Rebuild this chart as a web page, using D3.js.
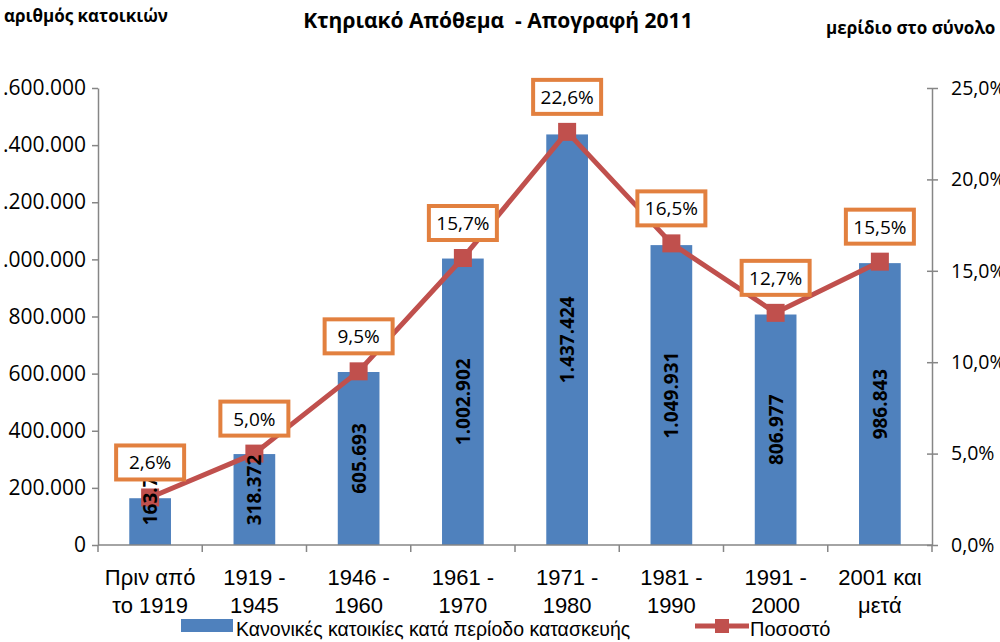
<!DOCTYPE html>
<html>
<head>
<meta charset="utf-8">
<script src="https://cdn.jsdelivr.net/npm/d3@7/dist/d3.min.js"></script>
<style>
  html, body { margin: 0; padding: 0; background: #fff; }
  svg { display: block; }
  text { white-space: pre; }
</style>
</head>
<body>
<svg id="chart" width="1000" height="642"></svg>
<script>
// Building stock by construction period, census 2011
const categories = [
  ["Πριν από", "το 1919"],
  ["1919 -", "1945"],
  ["1946 -", "1960"],
  ["1961 -", "1970"],
  ["1971 -", "1980"],
  ["1981 -", "1990"],
  ["1991 -", "2000"],
  ["2001 και", "μετά"]
];
const dwellings = [163759, 318372, 605693, 1002902, 1437424, 1049931, 806977, 986843];
const shares = [2.6, 5.0, 9.5, 15.7, 22.6, 16.5, 12.7, 15.5];
const leftTicks = [0, 200000, 400000, 600000, 800000, 1000000, 1200000, 1400000, 1600000];
const rightTicks = [0, 5, 10, 15, 20, 25];

const titleText = "Κτηριακό Απόθεμα  - Απογραφή 2011";
const leftTitle = "αριθμός κατοικιών";
const rightTitle = "μερίδιο στο σύνολο";
const barLegend = "Κανονικές κατοικίες κατά περίοδο κατασκευής";
const lineLegend = "Ποσοστό";

const BAR = "#4F81BD", LINE = "#C0504D", BOX = "#E2803F", AXIS = "#868686";
const FONT = "'Open Sans', 'Noto Sans', sans-serif";
const NARROW = "'Liberation Sans Narrow', 'Liberation Sans', sans-serif";

const svg = d3.select("#chart");
const L = 98, R = 932, T = 88, B = 545;

const keys = categories.map((c, i) => i);
const x = d3.scaleBand().domain(keys).range([L, R]).padding(0);
const y = d3.scaleLinear().domain([0, 1600000]).range([B, T]);
const yr = d3.scaleLinear().domain([0, 25]).range([B, T]);
const barW = x.bandwidth() * 0.4;
const cx = i => x(i) + x.bandwidth() / 2;

const grFmt = d3.formatLocale({ decimal: ",", thousands: ".", grouping: [3], currency: ["", "€"] });
const numFmt = grFmt.format(",d");
const pctFmt = grFmt.format(".1f");

// titles
svg.append("text").attr("x", 498).attr("y", 28).attr("text-anchor", "middle")
  .attr("font-family", FONT).attr("font-weight", "bold").attr("font-size", 21)
  .attr("fill", "#000").text(titleText);
svg.append("text").attr("x", 4).attr("y", 22)
  .attr("font-family", FONT).attr("font-weight", "bold").attr("font-size", 17)
  .attr("fill", "#000").text(leftTitle);
svg.append("text").attr("x", 826).attr("y", 34)
  .attr("font-family", FONT).attr("font-weight", "bold").attr("font-size", 17)
  .attr("fill", "#000").text(rightTitle);

// left axis
const gl = svg.append("g").attr("transform", `translate(${L},0)`)
  .call(d3.axisLeft(y).tickValues(leftTicks).tickFormat(numFmt).tickSize(6).tickSizeOuter(0).tickPadding(6));
// right axis
const gr = svg.append("g").attr("transform", `translate(${R},0)`)
  .call(d3.axisRight(yr).tickValues(rightTicks).tickFormat(d => pctFmt(d) + "%").tickSize(6).tickSizeOuter(0).tickPadding(13));
gr.selectAll(".tick line").attr("x1", -5).attr("x2", 6);
[gl, gr].forEach(g => {
  g.select(".domain").attr("stroke", AXIS).attr("stroke-width", 1.5);
  g.selectAll(".tick line").attr("stroke", AXIS).attr("stroke-width", 1.5);
  g.selectAll(".tick text").attr("font-family", FONT).attr("fill", "#000");
});
gl.selectAll(".tick text").attr("font-size", 21);
gr.selectAll(".tick text").attr("font-size", 19.5);

// bars
svg.append("g").selectAll("rect").data(dwellings).join("rect")
  .attr("x", (d, i) => cx(i) - barW / 2)
  .attr("y", d => y(d))
  .attr("width", barW)
  .attr("height", d => B - y(d))
  .attr("fill", BAR);

// bottom axis
const gb = svg.append("g");
gb.append("line").attr("x1", L).attr("x2", R).attr("y1", B).attr("y2", B)
  .attr("stroke", AXIS).attr("stroke-width", 1.5);
gb.selectAll("line.tk").data(keys.concat([keys.length])).join("line").attr("class", "tk")
  .attr("x1", i => i < keys.length ? x(i) : R).attr("x2", i => i < keys.length ? x(i) : R)
  .attr("y1", B).attr("y2", B + 7).attr("stroke", AXIS).attr("stroke-width", 1.5);
const lbl = gb.selectAll("text").data(categories).join("text")
  .attr("font-family", NARROW).attr("font-size", 22).attr("fill", "#000")
  .attr("text-anchor", "middle");
lbl.append("tspan").attr("x", (d, i) => cx(i)).attr("y", 585).text(d => d[0]);
lbl.append("tspan").attr("x", (d, i) => cx(i)).attr("y", 613).text(d => d[1]);

// share line and markers
const line = d3.line().x((d, i) => cx(i)).y(d => yr(d));
svg.append("path").datum(shares).attr("d", line)
  .attr("fill", "none").attr("stroke", LINE).attr("stroke-width", 5).attr("stroke-linejoin", "round");
const ms = 18;
svg.append("g").selectAll("rect").data(shares).join("rect")
  .attr("x", (d, i) => cx(i) - ms / 2).attr("y", d => yr(d) - ms / 2)
  .attr("width", ms).attr("height", ms).attr("fill", LINE);

// bar value labels (rotated, centred in bar but kept clear of the axis)
svg.append("g").selectAll("text").data(dwellings).join("text")
  .attr("transform", (d, i) => {
    const cy = Math.min((y(d) + B) / 2, B - 55);
    return `translate(${cx(i)},${cy}) rotate(-90)`;
  })
  .attr("text-anchor", "middle").attr("dominant-baseline", "central")
  .attr("font-family", FONT).attr("font-weight", "bold").attr("font-size", 19)
  .attr("fill", "#000").text(d => numFmt(d));

// share labels in framed boxes
const bw = 68, bh = 34;
const lb = svg.append("g").selectAll("g").data(shares).join("g")
  .attr("transform", (d, i) => `translate(${cx(i)},${yr(d) - 35})`);
lb.append("rect").attr("x", -bw / 2).attr("y", -bh / 2).attr("width", bw).attr("height", bh)
  .attr("fill", "#fff").attr("stroke", BOX).attr("stroke-width", 4);
lb.append("text").attr("text-anchor", "middle").attr("dominant-baseline", "central")
  .attr("font-family", FONT).attr("font-size", 19).attr("fill", "#000")
  .text(d => pctFmt(d) + "%");

// legend
const lg = svg.append("g");
lg.append("rect").attr("x", 181).attr("y", 619).attr("width", 52).attr("height", 13).attr("fill", BAR);
lg.append("text").attr("x", 236).attr("y", 636).attr("font-family", NARROW).attr("font-size", 19.5)
  .attr("fill", "#000").text(barLegend);
lg.append("line").attr("x1", 695).attr("x2", 749).attr("y1", 626).attr("y2", 626)
  .attr("stroke", LINE).attr("stroke-width", 5);
lg.append("rect").attr("x", 715).attr("y", 619).attr("width", 14).attr("height", 14).attr("fill", LINE);
lg.append("text").attr("x", 750).attr("y", 636).attr("font-family", NARROW).attr("font-size", 20)
  .attr("fill", "#000").text(lineLegend);
</script>
</body>
</html>
